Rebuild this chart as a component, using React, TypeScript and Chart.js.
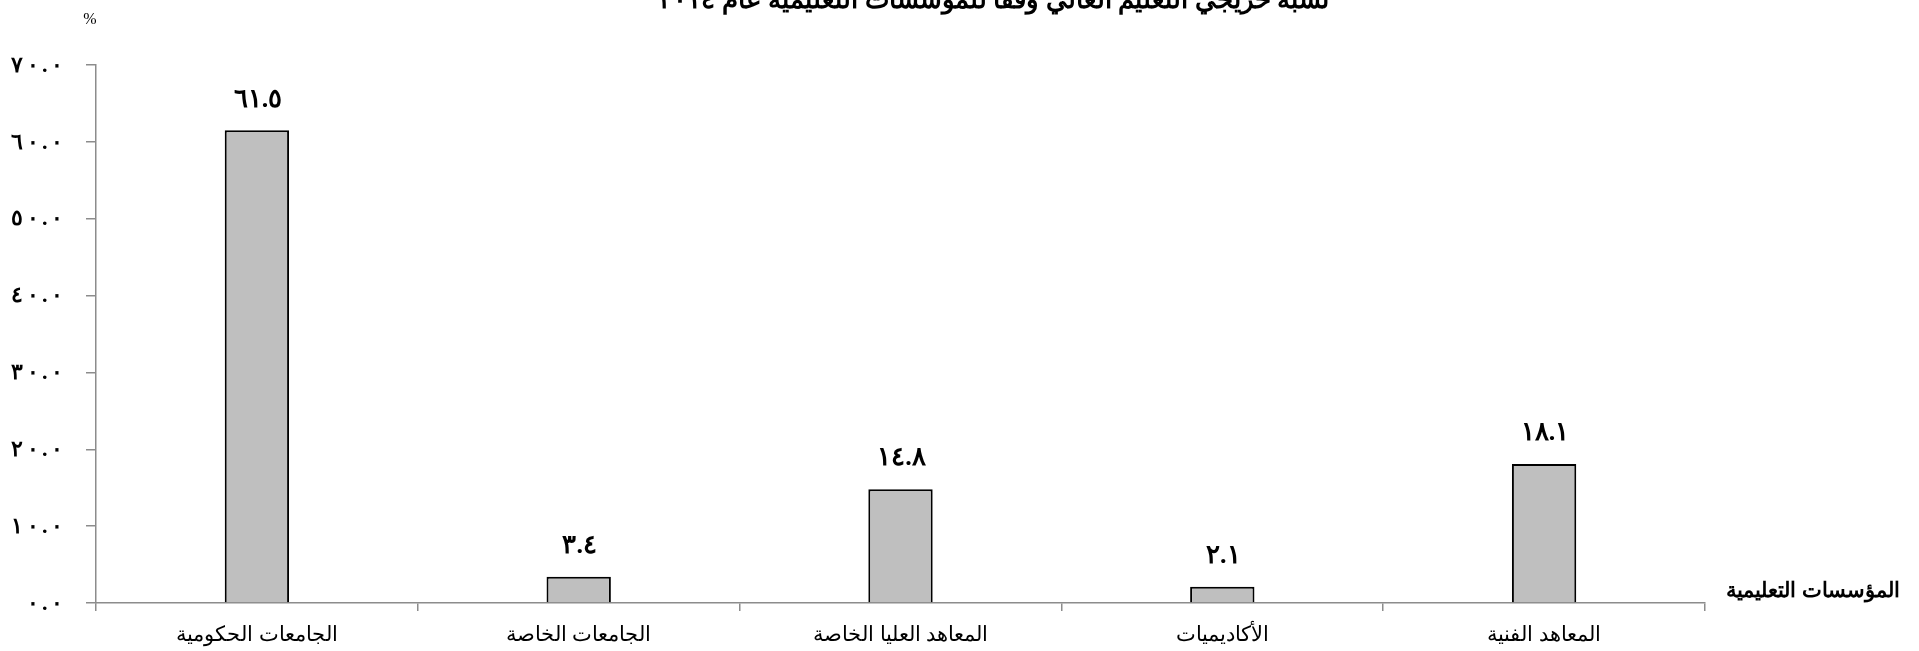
import React, { useEffect, useRef } from "react";
import { Chart, registerables } from "chart.js";

Chart.register(...registerables);

const chartTitle = "نسبة خريجي التعليم العالي وفقا للمؤسسات التعليمية عام ٢٠١٤";
const xAxisTitle = "المؤسسات التعليمية";
const yAxisTitle = "%";
const categories = [
  "الجامعات الحكومية",
  "الجامعات الخاصة",
  "المعاهد العليا الخاصة",
  "الأكاديميات",
  "المعاهد الفنية",
];
const values = [61.5, 3.4, 14.8, 2.1, 18.1];
const yTicks = [0, 10, 20, 30, 40, 50, 60, 70];

const AR_DIGITS = "٠١٢٣٤٥٦٧٨٩";
const toArabic = (s: string) => s.replace(/[0-9]/g, (d) => AR_DIGITS[Number(d)]);

const FONT = '"Times New Roman", "Liberation Serif", serif';

// draws a numeric string glyph by glyph, right-aligned at xRight, with extra gap
function drawSpacedRight(ctx: CanvasRenderingContext2D, text: string, xRight: number, y: number, gap: number) {
  const chars = Array.from(text);
  let x = xRight;
  ctx.textAlign = "left";
  for (let i = chars.length - 1; i >= 0; i--) {
    const w = ctx.measureText(chars[i]).width;
    x -= w;
    ctx.fillText(chars[i], x, y);
    x -= gap;
  }
}

const textPlugin = {
  id: "texts",
  afterDraw(chart: any) {
    const ctx = chart.ctx as CanvasRenderingContext2D;
    const area = chart.chartArea;
    const yScale = chart.scales.y;
    ctx.save();
    ctx.fillStyle = "#000";
    (ctx as any).direction = "rtl";
    // title (partly cut at top)
    ctx.font = `bold 26px ${FONT}`;
    ctx.textAlign = "center";
    ctx.textBaseline = "alphabetic";
    ctx.fillText(chartTitle, 994, 8);
    // y axis title
    ctx.font = `16px ${FONT}`;
    ctx.textBaseline = "middle";
    ctx.fillText(yAxisTitle, 90, 20);
    // x axis title
    ctx.font = `bold 21px ${FONT}`;
    ctx.textAlign = "center";
    ctx.fillText(xAxisTitle, 1813, area.bottom - 11);
    // y tick labels
    (ctx as any).direction = "ltr";
    ctx.font = `bold 22px ${FONT}`;
    yTicks.forEach((v) => {
      drawSpacedRight(ctx, toArabic(v.toFixed(1)), 63, yScale.getPixelForValue(v) + 1, 3.5);
    });
    // data labels
    const meta = chart.getDatasetMeta(0);
    ctx.font = `bold 26px ${FONT}`;
    ctx.textAlign = "center";
    meta.data.forEach((bar: any, i: number) => {
      ctx.fillText(toArabic(values[i].toFixed(1)), bar.x + 1, bar.y - 30.5);
    });
    ctx.restore();
  },
};

export default function App() {
  const ref = useRef<HTMLCanvasElement>(null);
  useEffect(() => {
    if (!ref.current) return;
    const chart = new Chart(ref.current, {
      type: "bar",
      data: {
        labels: categories,
        datasets: [
          {
            data: values,
            backgroundColor: "#BFBFBF",
            borderColor: "#000000",
            borderWidth: 2,
            borderSkipped: "bottom",
            categoryPercentage: 1,
            barPercentage: 0.2,
          },
        ],
      },
      options: {
        animation: false,
        responsive: true,
        maintainAspectRatio: false,
        layout: { padding: { top: 65, right: 214, bottom: 0, left: 0 } },
        plugins: {
          legend: { display: false },
          tooltip: { enabled: false },
          title: { display: false },
        },
        scales: {
          x: {
            afterFit: (s: any) => {
              s.height = 48;
            },
            grid: {
              offset: true,
              drawOnChartArea: false,
              drawTicks: true,
              tickLength: 8,
              color: "#8C8C8C",
              lineWidth: 1.5,
            },
            border: { color: "#8C8C8C", width: 1.5 },
            ticks: {
              color: "#000",
              font: { family: FONT, size: 21 },
              padding: 12,
              maxRotation: 0,
              autoSkip: false,
            },
          },
          y: {
            min: 0,
            max: 70,
            afterFit: (s: any) => {
              s.width = 96;
            },
            afterBuildTicks: (s: any) => {
              s.ticks = yTicks.map((v) => ({ value: v }));
            },
            grid: {
              drawOnChartArea: false,
              drawTicks: true,
              tickLength: 10,
              color: "#8C8C8C",
              lineWidth: 1.5,
            },
            border: { color: "#8C8C8C", width: 1.5 },
            ticks: {
              display: false,
            },
          },
        },
      },
      plugins: [textPlugin],
    });
    return () => chart.destroy();
  }, []);
  return (
    <div style={{ position: "fixed", left: 0, top: 0, width: 1919, height: 651, background: "#fff" }}>
      <canvas ref={ref} />
    </div>
  );
}
